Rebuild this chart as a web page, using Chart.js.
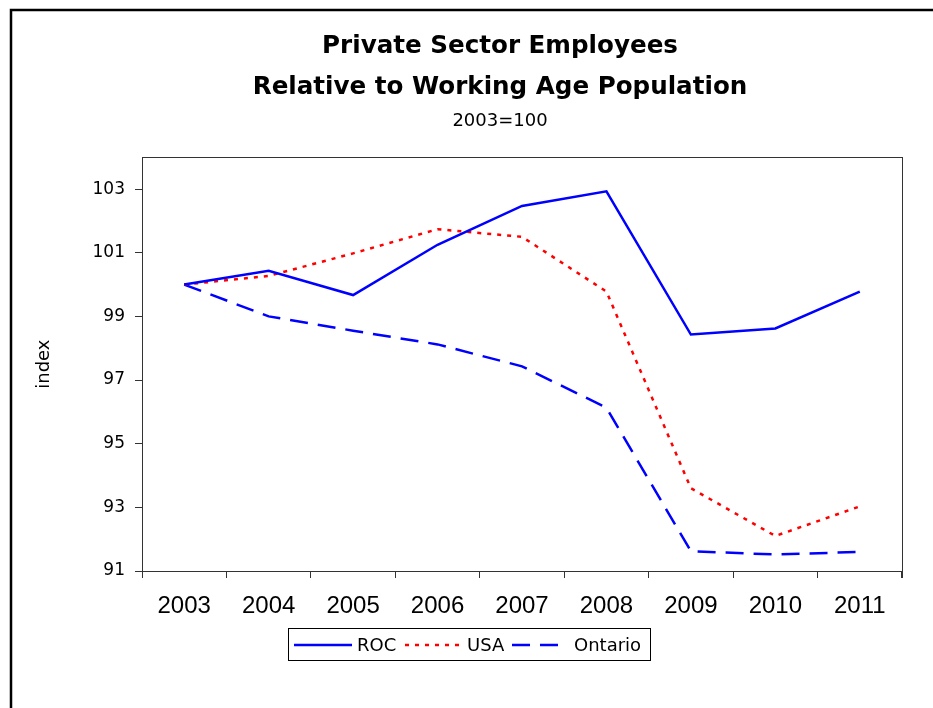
<!DOCTYPE html>
<html>
<head>
<meta charset="utf-8">
<style>
  html, body { margin: 0; padding: 0; background: #fff; }
  #wrap { width: 933px; height: 708px; }
</style>
<script src="https://cdn.jsdelivr.net/npm/chart.js@4.4.1/dist/chart.umd.min.js"></script>
</head>
<body>
<div id="wrap"><canvas id="chart" width="933" height="708"></canvas></div>
<script>
// data
const years = ["2003", "2004", "2005", "2006", "2007", "2008", "2009", "2010", "2011"];
const rocValues = [100, 100.43, 99.67, 101.25, 102.47, 102.93, 98.43, 98.62, 99.78];
const usaValues = [100, 100.27, 100.98, 101.74, 101.5, 99.78, 93.6, 92.1, 93.03];
const ontarioValues = [100, 99.0, 98.55, 98.12, 97.43, 96.13, 91.62, 91.52, 91.6];
const yTicks = [91, 93, 95, 97, 99, 101, 103];

// outer frame, plot box, closing x tick and bordered legend
const framePlugin = {
  id: 'frame',
  afterLayout(chart) {
    // titles are centred on the whole framed page, not on the plot
    chart.boxes.forEach(b => {
      if (b.position === 'top' && b.fullSize) {
        b.left = 67;
        b.right = 933;
        b.width = 866;
      }
    });
  },
  beforeDraw(chart) {
    const ctx = chart.ctx;
    ctx.save();
    ctx.fillStyle = '#fff';
    ctx.fillRect(0, 0, chart.width, chart.height);
    ctx.strokeStyle = '#000';
    ctx.lineWidth = 2.5;
    ctx.beginPath();
    ctx.moveTo(11, chart.height + 5);
    ctx.lineTo(11, 10);
    ctx.lineTo(chart.width + 5, 10);
    ctx.stroke();
    ctx.restore();
  },
  afterDraw(chart) {
    const ctx = chart.ctx;
    const a = chart.chartArea;
    ctx.save();
    ctx.strokeStyle = '#333';
    ctx.lineWidth = 1;
    ctx.strokeRect(Math.round(a.left) + 0.5, Math.round(a.top) + 0.5,
      Math.round(a.right - a.left), Math.round(a.bottom - a.top));
    ctx.beginPath();
    ctx.moveTo(Math.round(a.right) + 0.5, a.bottom);
    ctx.lineTo(Math.round(a.right) + 0.5, a.bottom + 7);
    ctx.stroke();

    // legend box
    const box = { x: 288.5, y: 628.5, w: 362, h: 32 };
    ctx.strokeStyle = '#000';
    ctx.strokeRect(box.x, box.y, box.w, box.h);
    const items = [
      { ds: 0, x1: 294, x2: 352, tx: 357 },
      { ds: 1, x1: 405, x2: 461, tx: 467 },
      { ds: 2, x1: 512, x2: 563, tx: 574 }
    ];
    const cy = 645;
    ctx.font = '18px "DejaVu Sans"';
    ctx.textBaseline = 'middle';
    items.forEach(it => {
      const ds = chart.data.datasets[it.ds];
      ctx.strokeStyle = ds.borderColor;
      ctx.lineWidth = ds.borderWidth;
      ctx.setLineDash(ds.borderDash || []);
      ctx.beginPath();
      ctx.moveTo(it.x1, cy);
      ctx.lineTo(it.x2, cy);
      ctx.stroke();
      ctx.setLineDash([]);
      ctx.fillStyle = '#000';
      ctx.fillText(ds.label, it.tx, cy + 1);
    });
    ctx.restore();
  }
};

new Chart(document.getElementById('chart'), {
  type: 'line',
  data: {
    labels: years,
    datasets: [
      {
        label: 'ROC',
        data: rocValues,
        borderColor: '#0000ff',
        borderWidth: 2.5,
        pointRadius: 0,
        tension: 0
      },
      {
        label: 'USA',
        data: usaValues,
        borderColor: '#ff0000',
        borderWidth: 2.5,
        borderDash: [4, 6],
        pointRadius: 0,
        tension: 0
      },
      {
        label: 'Ontario',
        data: ontarioValues,
        borderColor: '#0000ff',
        borderWidth: 2.5,
        borderDash: [18, 10],
        pointRadius: 0,
        tension: 0
      }
    ]
  },
  options: {
    responsive: false,
    animation: false,
    layout: { padding: { left: 0, right: 31, top: 10, bottom: 0 } },
    plugins: {
      legend: { display: false },
      tooltip: { enabled: false },
      title: {
        display: true,
        text: ['Private Sector Employees', 'Relative to Working Age Population'],
        color: '#000',
        font: { family: '"DejaVu Sans"', size: 24.6, weight: 'bold', lineHeight: 1.68 },
        padding: { top: 16, bottom: 0 }
      },
      subtitle: {
        display: true,
        text: '2003=100',
        color: '#000',
        font: { family: '"DejaVu Sans"', size: 18, lineHeight: 1.2 },
        padding: { top: 2, bottom: 25 }
      }
    },
    scales: {
      x: {
        offset: true,
        afterFit: (scale) => { scale.height = 137; },
        grid: {
          offset: true,
          drawOnChartArea: false,
          drawTicks: true,
          tickLength: 7,
          color: '#333'
        },
        border: { display: true, color: '#333' },
        ticks: {
          color: '#000',
          padding: 14,
          maxRotation: 0,
          font: { family: '"Liberation Sans"', size: 24 }
        }
      },
      y: {
        min: 91,
        max: 104,
        afterFit: (scale) => { scale.width = 142; },
        afterBuildTicks: (scale) => { scale.ticks = yTicks.map(v => ({ value: v })); },
        grid: {
          drawOnChartArea: false,
          drawTicks: true,
          tickLength: 7,
          color: '#333'
        },
        border: { display: true, color: '#333' },
        ticks: {
          color: '#000',
          padding: 10,
          font: { family: '"DejaVu Sans"', size: 17 }
        },
        title: {
          display: true,
          text: 'index',
          color: '#000',
          font: { family: '"DejaVu Sans"', size: 18 },
          padding: { top: 34, bottom: 0 }
        }
      }
    }
  },
  plugins: [framePlugin]
});
</script>
</body>
</html>
